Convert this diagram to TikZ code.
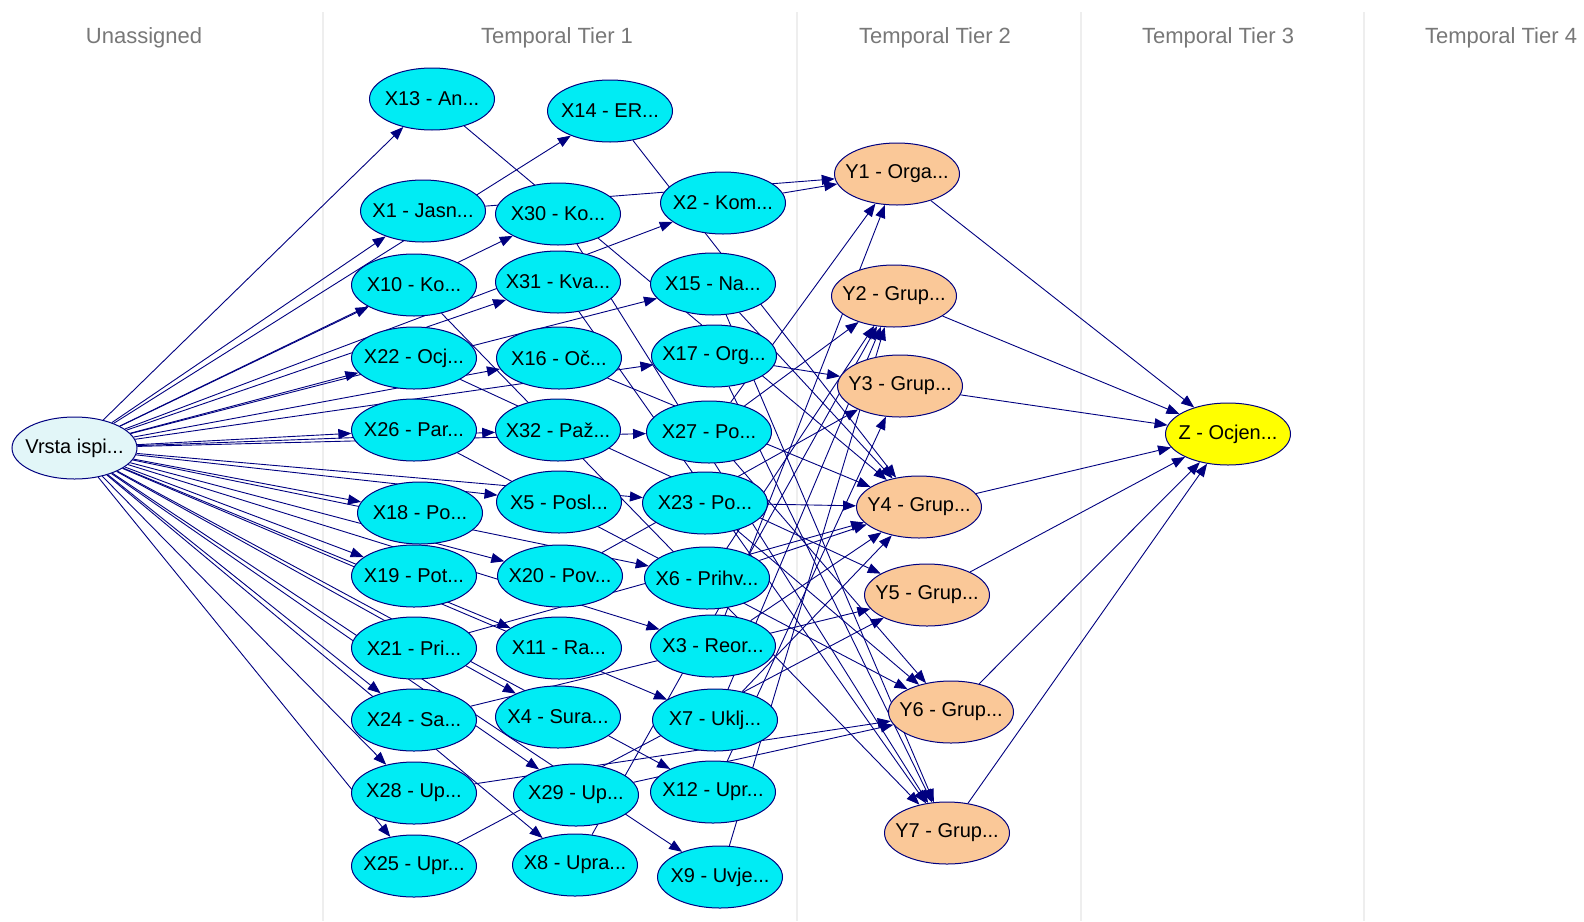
\documentclass[tikz,border=0pt]{standalone}
\usepackage{fontspec}
\setmainfont{Liberation Sans}
\usetikzlibrary{shapes.geometric,arrows.meta}
\pgfdeclarelayer{bg}
\pgfdeclarelayer{sep}
\pgfdeclarelayer{paper}
\pgfsetlayers{paper,sep,bg,main}
\definecolor{navyc}{RGB}{0,0,128}
\definecolor{cyanc}{RGB}{0,236,244}
\definecolor{peachc}{RGB}{250,200,152}
\definecolor{yellc}{RGB}{255,255,0}
\definecolor{vrstac}{RGB}{226,246,248}
\definecolor{hdrc}{RGB}{120,120,120}
\definecolor{sepc}{RGB}{238,238,238}
\newcommand{\nd}[5]{\node[#5] (#1) at (#2,#3) {\makebox[0pt][c]{#4}};}
\begin{document}
\begin{tikzpicture}[x=1pt,y=-1pt,
  ndbase/.style={ellipse, draw=navyc, line width=1pt, minimum width=125pt, minimum height=62pt, inner sep=0pt, font=\fontsize{20}{22}\selectfont},
  xn/.style={ndbase, fill=cyanc},
  yn/.style={ndbase, fill=peachc},
  zn/.style={ndbase, fill=yellc},
  vn/.style={ndbase, fill=vrstac},
  ed/.style={draw=navyc, line width=0.9pt, -{Triangle[length=13pt,width=10pt]}},
  hdr/.style={text=hdrc, font=\fontsize{22}{24}\selectfont, inner sep=0pt},
  sepl/.style={draw=sepc, line width=1.3pt}]
\useasboundingbox (0,0) rectangle (1584,921);
\begin{pgfonlayer}{paper}
\fill[white] (0,0) rectangle (1584,921);
\end{pgfonlayer}
% headers
\node[hdr] (h0) at (144,38) {Unassigned};
\node[hdr] (h1) at (557,38) {Temporal Tier 1};
\node[hdr] (h2) at (935,38) {Temporal Tier 2};
\node[hdr] (h3) at (1218,38) {Temporal Tier 3};
\node[hdr] (h4) at (1501,38) {Temporal Tier 4};
\begin{pgfonlayer}{sep}
\foreach \xx/\nm in {323/s1,797/s2,1081/s3,1364/s4}{
  \coordinate (\nm a) at (\xx,12);
  \coordinate (\nm b) at (\xx,921);
  \draw[sepl] (\nm a) -- (\nm b);
}
\end{pgfonlayer}
% nodes
\nd{V}{74.5}{448}{Vrsta ispi...}{vn}
\nd{X13}{432}{99}{X13 - An...}{xn}
\nd{X14}{610}{111}{X14 - ER...}{xn}
\nd{X1}{423}{211}{X1 - Jasn...}{xn}
\nd{X30}{558}{214}{X30 - Ko...}{xn}
\nd{X2}{723}{203}{X2 - Kom...}{xn}
\nd{X10}{414}{285}{X10 - Ko...}{xn}
\nd{X31}{558}{282}{X31 - Kva...}{xn}
\nd{X15}{713}{284}{X15 - Na...}{xn}
\nd{X22}{414}{358}{X22 - Ocj...}{xn}
\nd{X16}{559}{358}{X16 - Oč...}{xn}
\nd{X17}{714}{356}{X17 - Org...}{xn}
\nd{X26}{414}{430}{X26 - Par...}{xn}
\nd{X32}{558}{430}{X32 - Paž...}{xn}
\nd{X27}{709}{432}{X27 - Po...}{xn}
\nd{X18}{420}{513}{X18 - Po...}{xn}
\nd{X5}{559}{502}{X5 - Posl...}{xn}
\nd{X23}{705}{503}{X23 - Po...}{xn}
\nd{X19}{414}{576}{X19 - Pot...}{xn}
\nd{X20}{560}{576}{X20 - Pov...}{xn}
\nd{X6}{707}{578}{X6 - Prihv...}{xn}
\nd{X21}{414}{648}{X21 - Pri...}{xn}
\nd{X11}{559}{648}{X11 - Ra...}{xn}
\nd{X3}{713}{646}{X3 - Reor...}{xn}
\nd{X24}{414}{720}{X24 - Sa...}{xn}
\nd{X4}{558}{717}{X4 - Sura...}{xn}
\nd{X7}{715}{720}{X7 - Uklj...}{xn}
\nd{X28}{414}{793}{X28 - Up...}{xn}
\nd{X29}{576}{795}{X29 - Up...}{xn}
\nd{X12}{713}{792}{X12 - Upr...}{xn}
\nd{X25}{414}{866}{X25 - Upr...}{xn}
\nd{X8}{575}{865}{X8 - Upra...}{xn}
\nd{X9}{720}{877}{X9 - Uvje...}{xn}
\nd{Y1}{897}{174}{Y1 - Orga...}{yn}
\nd{Y2}{894}{296}{Y2 - Grup...}{yn}
\nd{Y3}{900}{386}{Y3 - Grup...}{yn}
\nd{Y4}{919}{507}{Y4 - Grup...}{yn}
\nd{Y5}{927}{595}{Y5 - Grup...}{yn}
\nd{Y6}{951}{712}{Y6 - Grup...}{yn}
\nd{Y7}{947}{833}{Y7 - Grup...}{yn}
\nd{Z}{1228}{434}{Z - Ocjen...}{zn}
% edges
\begin{pgfonlayer}{bg}
\foreach \t in {X13,X14,X1,X10,X30,X22,X31,X16,X2,X15,X17,X26,X32,X27,X5,X23,X18,X19,X20,X6,X11,X3,X24,X4,X7,X12,X28,X29,X9,X25,X8}
  \draw[ed] (V) -- (\t);
\foreach \s/\t in {X1/Y1,X2/Y1,X27/Y1,X3/Y1,
  X27/Y2,X6/Y2,X7/Y2,X8/Y2,X9/Y2,
  X17/Y3,X20/Y3,X12/Y3,
  X13/Y4,X14/Y4,X15/Y4,X16/Y4,X23/Y4,X6/Y4,X21/Y4,X3/Y4,X7/Y4,
  X22/Y5,X24/Y5,X25/Y5,
  X27/Y6,X26/Y6,X23/Y6,X28/Y6,X29/Y6,
  X10/Y7,X30/Y7,X31/Y7,X15/Y7,X17/Y7,
  Y1/Z,Y2/Z,Y3/Z,Y4/Z,Y5/Z,Y6/Z,Y7/Z}
  \draw[ed] (\s) -- (\t);
\end{pgfonlayer}
\end{tikzpicture}
\end{document}
